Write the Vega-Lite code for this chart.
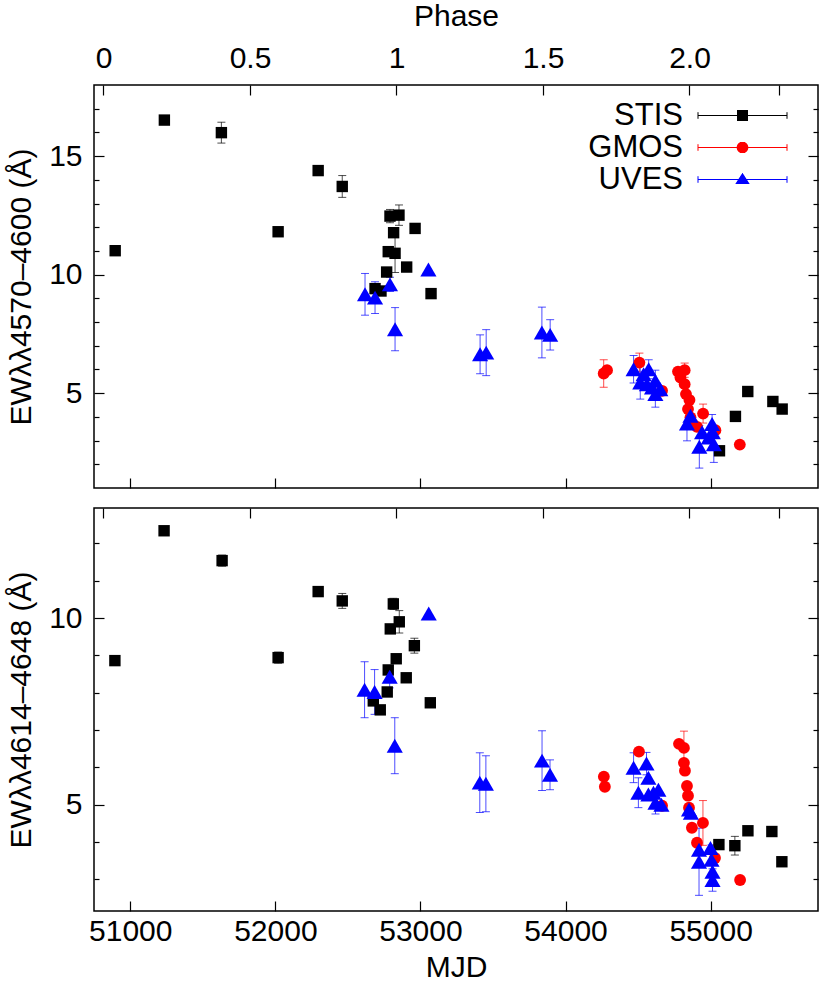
{
  "$schema": "https://vega.github.io/schema/vega-lite/v6.json",
  "padding": {"left": 5, "top": 0, "right": 5, "bottom": 5},
  "background": "white",
  "datasets": {
    "a": [
      {"inst": "STIS", "mjd": 50896, "ew": 11.01, "err": 0},
      {"inst": "STIS", "mjd": 51235, "ew": 16.52, "err": 0},
      {"inst": "STIS", "mjd": 51628, "ew": 15.99, "err": 0.44},
      {"inst": "STIS", "mjd": 52019, "ew": 11.81, "err": 0},
      {"inst": "STIS", "mjd": 52295, "ew": 14.39, "err": 0},
      {"inst": "STIS", "mjd": 52461, "ew": 13.72, "err": 0.46},
      {"inst": "STIS", "mjd": 52790, "ew": 12.47, "err": 0.28},
      {"inst": "STIS", "mjd": 52852, "ew": 12.51, "err": 0.43},
      {"inst": "STIS", "mjd": 52815, "ew": 11.77, "err": 0},
      {"inst": "STIS", "mjd": 52825, "ew": 10.90, "err": 0.81},
      {"inst": "STIS", "mjd": 52778, "ew": 10.97, "err": 0},
      {"inst": "STIS", "mjd": 52963, "ew": 11.95, "err": 0},
      {"inst": "STIS", "mjd": 52905, "ew": 10.32, "err": 0},
      {"inst": "STIS", "mjd": 52767, "ew": 10.11, "err": 0},
      {"inst": "STIS", "mjd": 52687, "ew": 9.41, "err": 0},
      {"inst": "STIS", "mjd": 52728, "ew": 9.31, "err": 0},
      {"inst": "STIS", "mjd": 53073, "ew": 9.20, "err": 0.15},
      {"inst": "STIS", "mjd": 55061, "ew": 2.57, "err": 0},
      {"inst": "STIS", "mjd": 55171, "ew": 4.02, "err": 0},
      {"inst": "STIS", "mjd": 55256, "ew": 5.07, "err": 0},
      {"inst": "STIS", "mjd": 55429, "ew": 4.65, "err": 0},
      {"inst": "STIS", "mjd": 55493, "ew": 4.33, "err": 0},
      {"inst": "GMOS", "mjd": 54263, "ew": 5.83, "err": 0.58},
      {"inst": "GMOS", "mjd": 54286, "ew": 5.97, "err": 0},
      {"inst": "GMOS", "mjd": 54509, "ew": 6.29, "err": 0.4},
      {"inst": "GMOS", "mjd": 54665, "ew": 5.10, "err": 0},
      {"inst": "GMOS", "mjd": 54775, "ew": 5.91, "err": 0},
      {"inst": "GMOS", "mjd": 54821, "ew": 5.97, "err": 0.3},
      {"inst": "GMOS", "mjd": 54792, "ew": 5.66, "err": 0},
      {"inst": "GMOS", "mjd": 54821, "ew": 5.38, "err": 0},
      {"inst": "GMOS", "mjd": 54830, "ew": 4.96, "err": 0},
      {"inst": "GMOS", "mjd": 54854, "ew": 4.71, "err": 0},
      {"inst": "GMOS", "mjd": 54844, "ew": 4.33, "err": 0},
      {"inst": "GMOS", "mjd": 54861, "ew": 3.98, "err": 0},
      {"inst": "GMOS", "mjd": 54877, "ew": 3.70, "err": 0},
      {"inst": "GMOS", "mjd": 54906, "ew": 3.58, "err": 0},
      {"inst": "GMOS", "mjd": 54948, "ew": 4.14, "err": 0.4},
      {"inst": "GMOS", "mjd": 55033, "ew": 3.44, "err": 0},
      {"inst": "GMOS", "mjd": 55201, "ew": 2.83, "err": 0},
      {"inst": "UVES", "mjd": 52618, "ew": 9.17, "err": 0.88},
      {"inst": "UVES", "mjd": 52687, "ew": 9.03, "err": 0.67},
      {"inst": "UVES", "mjd": 52790, "ew": 9.59, "err": 0.3},
      {"inst": "UVES", "mjd": 53055, "ew": 10.22, "err": 0},
      {"inst": "UVES", "mjd": 52825, "ew": 7.70, "err": 0.91},
      {"inst": "UVES", "mjd": 53411, "ew": 6.64, "err": 0.82},
      {"inst": "UVES", "mjd": 53453, "ew": 6.71, "err": 0.97},
      {"inst": "UVES", "mjd": 53837, "ew": 7.56, "err": 1.07},
      {"inst": "UVES", "mjd": 53894, "ew": 7.46, "err": 0.64},
      {"inst": "UVES", "mjd": 54469, "ew": 6.01, "err": 0.58},
      {"inst": "UVES", "mjd": 54573, "ew": 6.01, "err": 0.4},
      {"inst": "UVES", "mjd": 54538, "ew": 5.80, "err": 0},
      {"inst": "UVES", "mjd": 54515, "ew": 5.45, "err": 0.7},
      {"inst": "UVES", "mjd": 54561, "ew": 5.38, "err": 0},
      {"inst": "UVES", "mjd": 54619, "ew": 5.52, "err": 0.45},
      {"inst": "UVES", "mjd": 54596, "ew": 5.24, "err": 0},
      {"inst": "UVES", "mjd": 54619, "ew": 4.96, "err": 0.55},
      {"inst": "UVES", "mjd": 54653, "ew": 5.17, "err": 0},
      {"inst": "UVES", "mjd": 54861, "ew": 4.05, "err": 0},
      {"inst": "UVES", "mjd": 54837, "ew": 3.72, "err": 0.73},
      {"inst": "UVES", "mjd": 54941, "ew": 3.35, "err": 0},
      {"inst": "UVES", "mjd": 55010, "ew": 3.70, "err": 0.4},
      {"inst": "UVES", "mjd": 55015, "ew": 3.35, "err": 0},
      {"inst": "UVES", "mjd": 54987, "ew": 3.13, "err": 0},
      {"inst": "UVES", "mjd": 55022, "ew": 2.85, "err": 0.77},
      {"inst": "UVES", "mjd": 54922, "ew": 2.74, "err": 0.9}
    ],
    "b": [
      {"inst": "STIS", "mjd": 50894, "ew": 8.86, "err": 0},
      {"inst": "STIS", "mjd": 51233, "ew": 12.34, "err": 0},
      {"inst": "STIS", "mjd": 51633, "ew": 11.54, "err": 0.15},
      {"inst": "STIS", "mjd": 52019, "ew": 8.94, "err": 0.15},
      {"inst": "STIS", "mjd": 52295, "ew": 10.71, "err": 0},
      {"inst": "STIS", "mjd": 52461, "ew": 10.46, "err": 0.2},
      {"inst": "STIS", "mjd": 52813, "ew": 10.38, "err": 0.15},
      {"inst": "STIS", "mjd": 52854, "ew": 9.90, "err": 0.3},
      {"inst": "STIS", "mjd": 52792, "ew": 9.71, "err": 0},
      {"inst": "STIS", "mjd": 52833, "ew": 8.91, "err": 0},
      {"inst": "STIS", "mjd": 52778, "ew": 8.61, "err": 0},
      {"inst": "STIS", "mjd": 52771, "ew": 8.02, "err": 0},
      {"inst": "STIS", "mjd": 52675, "ew": 7.78, "err": 0},
      {"inst": "STIS", "mjd": 52723, "ew": 7.54, "err": 0},
      {"inst": "STIS", "mjd": 52902, "ew": 8.40, "err": 0},
      {"inst": "STIS", "mjd": 52958, "ew": 9.26, "err": 0.2},
      {"inst": "STIS", "mjd": 53068, "ew": 7.73, "err": 0},
      {"inst": "STIS", "mjd": 55057, "ew": 3.93, "err": 0},
      {"inst": "STIS", "mjd": 55167, "ew": 3.90, "err": 0.25},
      {"inst": "STIS", "mjd": 55257, "ew": 4.30, "err": 0},
      {"inst": "STIS", "mjd": 55422, "ew": 4.28, "err": 0},
      {"inst": "STIS", "mjd": 55491, "ew": 3.47, "err": 0},
      {"inst": "GMOS", "mjd": 54264, "ew": 5.75, "err": 0},
      {"inst": "GMOS", "mjd": 54271, "ew": 5.48, "err": 0},
      {"inst": "GMOS", "mjd": 54506, "ew": 6.42, "err": 0},
      {"inst": "GMOS", "mjd": 54782, "ew": 6.63, "err": 0},
      {"inst": "GMOS", "mjd": 54816, "ew": 6.52, "err": 0.45},
      {"inst": "GMOS", "mjd": 54816, "ew": 6.12, "err": 0},
      {"inst": "GMOS", "mjd": 54823, "ew": 5.91, "err": 0},
      {"inst": "GMOS", "mjd": 54837, "ew": 5.50, "err": 0},
      {"inst": "GMOS", "mjd": 54844, "ew": 5.24, "err": 0},
      {"inst": "GMOS", "mjd": 54851, "ew": 4.92, "err": 0},
      {"inst": "GMOS", "mjd": 54871, "ew": 4.38, "err": 0},
      {"inst": "GMOS", "mjd": 54906, "ew": 3.98, "err": 0},
      {"inst": "GMOS", "mjd": 54947, "ew": 4.51, "err": 0.6},
      {"inst": "GMOS", "mjd": 55030, "ew": 3.57, "err": 0},
      {"inst": "GMOS", "mjd": 55203, "ew": 2.98, "err": 0},
      {"inst": "GMOS", "mjd": 54665, "ew": 4.97, "err": 0},
      {"inst": "UVES", "mjd": 52615, "ew": 8.08, "err": 0.75},
      {"inst": "UVES", "mjd": 52684, "ew": 8.02, "err": 0.6},
      {"inst": "UVES", "mjd": 52788, "ew": 8.43, "err": 0.3},
      {"inst": "UVES", "mjd": 53057, "ew": 10.12, "err": 0},
      {"inst": "UVES", "mjd": 52823, "ew": 6.58, "err": 0.75},
      {"inst": "UVES", "mjd": 53409, "ew": 5.59, "err": 0.8},
      {"inst": "UVES", "mjd": 53451, "ew": 5.56, "err": 0.75},
      {"inst": "UVES", "mjd": 53838, "ew": 6.18, "err": 0.8},
      {"inst": "UVES", "mjd": 53893, "ew": 5.80, "err": 0.4},
      {"inst": "UVES", "mjd": 54469, "ew": 5.99, "err": 0.4},
      {"inst": "UVES", "mjd": 54558, "ew": 6.10, "err": 0.3},
      {"inst": "UVES", "mjd": 54571, "ew": 5.72, "err": 0},
      {"inst": "UVES", "mjd": 54502, "ew": 5.32, "err": 0.4},
      {"inst": "UVES", "mjd": 54571, "ew": 5.27, "err": 0},
      {"inst": "UVES", "mjd": 54606, "ew": 5.32, "err": 0},
      {"inst": "UVES", "mjd": 54620, "ew": 5.05, "err": 0.3},
      {"inst": "UVES", "mjd": 54640, "ew": 5.40, "err": 0},
      {"inst": "UVES", "mjd": 54661, "ew": 5.00, "err": 0},
      {"inst": "UVES", "mjd": 54851, "ew": 4.87, "err": 0},
      {"inst": "UVES", "mjd": 54864, "ew": 4.78, "err": 0},
      {"inst": "UVES", "mjd": 54920, "ew": 3.79, "err": 0},
      {"inst": "UVES", "mjd": 54999, "ew": 3.84, "err": 0},
      {"inst": "UVES", "mjd": 55006, "ew": 3.52, "err": 0.4},
      {"inst": "UVES", "mjd": 55013, "ew": 3.20, "err": 0},
      {"inst": "UVES", "mjd": 55013, "ew": 2.98, "err": 0.3},
      {"inst": "UVES", "mjd": 54920, "ew": 3.47, "err": 0.9}
    ]
  },
  "vconcat": [
    {
      "data": {"name": "a"},
      "width": 724,
      "height": 403,
      "layer": [
        {
          "layer": [
            {
              "transform": [{"filter": "datum.err > 0"}],
              "mark": {"type": "errorbar", "ticks": {"size": 8, "thickness": 1, "opacity": 0.7}, "rule": {"strokeWidth": 1, "opacity": 0.7}},
              "encoding": {
                "x": {"field": "mjd", "type": "quantitative", "title": null, "scale": {"domain": [50750, 55740], "nice": false, "zero": false}},
                "y": {"field": "ew", "type": "quantitative", "title": "EWλλ4570–4600 (Å)", "scale": {"domain": [1, 18], "nice": false, "zero": false}},
                "yError": {"field": "err"},
                "color": {"field": "inst", "type": "nominal", "scale": {"domain": ["STIS", "GMOS", "UVES"], "range": ["#000000", "#ff0000", "#0000ff"]}, "legend": null}
              }
            },
            {
              "mark": {"type": "point", "filled": true, "opacity": 1},
              "encoding": {
                "x": {"field": "mjd", "type": "quantitative", "title": null, "scale": {"domain": [50750, 55740], "nice": false, "zero": false},
                  "axis": {"orient": "bottom", "values": [51000, 52000, 53000, 54000, 55000], "tickSize": -10, "labels": false, "title": null}},
                "y": {"field": "ew", "type": "quantitative", "title": "EWλλ4570–4600 (Å)", "scale": {"domain": [1, 18], "nice": false, "zero": false},
                  "axis": {"orient": "left", "values": [5, 10, 15], "tickSize": -10, "format": "d", "labelPadding": 22, "titlePadding": 12}},
                "color": {"field": "inst", "type": "nominal", "scale": {"domain": ["STIS", "GMOS", "UVES"], "range": ["#000000", "#ff0000", "#0000ff"]}, "legend": null},
                "shape": {"field": "inst", "type": "nominal", "scale": {"domain": ["STIS", "GMOS", "UVES"], "range": ["square", "circle", "triangle-up"]}, "legend": null},
                "size": {"field": "inst", "type": "nominal", "scale": {"type": "ordinal", "domain": ["STIS", "GMOS", "UVES"], "range": [130, 140, 260]}, "legend": null}
              }
            }
          ]
        },
        {
          "data": {"values": [{"inst": "STIS"}, {"inst": "GMOS"}, {"inst": "UVES"}]},
          "transform": [{"filter": "datum.inst == 'none'"}],
          "mark": {"type": "point", "filled": false, "size": 400, "strokeWidth": 1, "opacity": 1},
          "encoding": {
            "color": {"field": "inst", "type": "nominal", "scale": {"domain": ["STIS", "GMOS", "UVES"], "range": ["#000000", "#ff0000", "#0000ff"]},
              "legend": {"orient": "none", "legendX": 633, "legendY": 15, "title": null, "padding": 0, "labelFont": "Liberation Sans", "labelFontSize": 31, "labelAlign": "right", "labelOffset": -75, "labelColor": "black", "symbolSize": 400, "symbolStrokeWidth": 1, "symbolOpacity": 1, "rowPadding": 0}},
            "shape": {"field": "inst", "type": "nominal", "scale": {"domain": ["STIS", "GMOS", "UVES"], "range": [
                "M-4.45,0H4.45M-4.45,-0.33V0.33M4.45,-0.33V0.33M-0.55,-0.5H0.55M-0.55,-0.4H0.55M-0.55,-0.3H0.55M-0.55,-0.2H0.55M-0.55,-0.1H0.55M-0.55,0.1H0.55M-0.55,0.2H0.55M-0.55,0.3H0.55M-0.55,0.4H0.55M-0.55,0.5H0.55",
                "M-4.45,0H4.45M-4.45,-0.33V0.33M4.45,-0.33V0.33M-0.294,-0.5H0.294M-0.42,-0.4H0.42M-0.496,-0.3H0.496M-0.544,-0.2H0.544M-0.571,-0.1H0.571M-0.58,0H0.58M-0.571,0.1H0.571M-0.544,0.2H0.544M-0.496,0.3H0.496M-0.42,0.4H0.42M-0.294,0.5H0.294",
                "M-4.45,0H4.45M-4.45,-0.33V0.33M4.45,-0.33V0.33M-0.045,-0.6H0.045M-0.11,-0.5H0.11M-0.174,-0.4H0.174M-0.239,-0.3H0.239M-0.303,-0.2H0.303M-0.368,-0.1H0.368M-0.432,0H0.432M-0.497,0.1H0.497M-0.561,0.2H0.561M-0.626,0.3H0.626M-0.69,0.4H0.69"]},
              "legend": {"orient": "none", "legendX": 633, "legendY": 15, "title": null, "padding": 0, "labelFont": "Liberation Sans", "labelFontSize": 31, "labelAlign": "right", "labelOffset": -75, "labelColor": "black", "symbolSize": 400, "symbolStrokeWidth": 1, "symbolOpacity": 1, "rowPadding": 0}}
          }
        },
        {
          "mark": {"type": "point", "opacity": 0},
          "encoding": {"y": {"field": "ew", "type": "quantitative", "scale": {"domain": [1, 18], "nice": false, "zero": false},
            "axis": {"orient": "left", "values": [2, 3, 4, 6, 7, 8, 9, 11, 12, 13, 14, 16, 17], "tickSize": -5, "labels": false, "title": null}}}
        },
        {
          "mark": {"type": "point", "opacity": 0},
          "encoding": {"y": {"field": "ew", "type": "quantitative", "scale": {"domain": [1, 18], "nice": false, "zero": false},
            "axis": {"orient": "right", "values": [5, 10, 15], "tickSize": -10, "labels": false, "title": null}}}
        },
        {
          "mark": {"type": "point", "opacity": 0},
          "encoding": {"y": {"field": "ew", "type": "quantitative", "scale": {"domain": [1, 18], "nice": false, "zero": false},
            "axis": {"orient": "right", "values": [2, 3, 4, 6, 7, 8, 9, 11, 12, 13, 14, 16, 17], "tickSize": -5, "labels": false, "title": null}}}
        },
        {
          "data": {"values": [{"phase": 0}, {"phase": 2}]},
          "mark": {"type": "point", "opacity": 0},
          "encoding": {"x": {"field": "phase", "type": "quantitative", "scale": {"domain": [-0.0324, 2.4386], "nice": false, "zero": false},
            "axis": {"orient": "top", "values": [0, 0.5, 1, 1.5, 2, 2.307], "tickSize": -10, "labelPadding": 22,
              "labelExpr": "datum.value == 2 ? '2.0' : datum.value > 2.1 ? '' : '' + datum.value", "title": "Phase", "titlePadding": 12}}}
        }
      ],
      "resolve": {"scale": {"x": "independent", "shape": "independent", "color": "independent"}, "axis": {"x": "independent", "y": "independent"}}
    },
    {
      "data": {"name": "b"},
      "width": 724,
      "height": 403,
      "layer": [
        {
          "layer": [
            {
              "transform": [{"filter": "datum.err > 0"}],
              "mark": {"type": "errorbar", "ticks": {"size": 8, "thickness": 1, "opacity": 0.7}, "rule": {"strokeWidth": 1, "opacity": 0.7}},
              "encoding": {
                "x": {"field": "mjd", "type": "quantitative", "title": "MJD", "scale": {"domain": [50750, 55740], "nice": false, "zero": false}},
                "y": {"field": "ew", "type": "quantitative", "title": "EWλλ4614–4648 (Å)", "scale": {"domain": [2.15, 12.95], "nice": false, "zero": false}},
                "yError": {"field": "err"},
                "color": {"field": "inst", "type": "nominal", "scale": {"domain": ["STIS", "GMOS", "UVES"], "range": ["#000000", "#ff0000", "#0000ff"]}, "legend": null}
              }
            },
            {
              "mark": {"type": "point", "filled": true, "opacity": 1},
              "encoding": {
                "x": {"field": "mjd", "type": "quantitative", "title": "MJD", "scale": {"domain": [50750, 55740], "nice": false, "zero": false},
                  "axis": {"orient": "bottom", "values": [51000, 52000, 53000, 54000, 55000], "tickSize": -10, "format": "d", "labelPadding": 15, "titlePadding": 6}},
                "y": {"field": "ew", "type": "quantitative", "title": "EWλλ4614–4648 (Å)", "scale": {"domain": [2.15, 12.95], "nice": false, "zero": false},
                  "axis": {"orient": "left", "values": [5, 10], "tickSize": -10, "format": "d", "labelPadding": 22, "titlePadding": 12}},
                "color": {"field": "inst", "type": "nominal", "scale": {"domain": ["STIS", "GMOS", "UVES"], "range": ["#000000", "#ff0000", "#0000ff"]}, "legend": null},
                "shape": {"field": "inst", "type": "nominal", "scale": {"domain": ["STIS", "GMOS", "UVES"], "range": ["square", "circle", "triangle-up"]}, "legend": null},
                "size": {"field": "inst", "type": "nominal", "scale": {"type": "ordinal", "domain": ["STIS", "GMOS", "UVES"], "range": [130, 140, 260]}, "legend": null}
              }
            }
          ]
        },
        {
          "mark": {"type": "point", "opacity": 0},
          "encoding": {"y": {"field": "ew", "type": "quantitative", "scale": {"domain": [2.15, 12.95], "nice": false, "zero": false},
            "axis": {"orient": "left", "values": [3, 4, 6, 7, 8, 9, 11, 12], "tickSize": -5, "labels": false, "title": null}}}
        },
        {
          "mark": {"type": "point", "opacity": 0},
          "encoding": {"y": {"field": "ew", "type": "quantitative", "scale": {"domain": [2.15, 12.95], "nice": false, "zero": false},
            "axis": {"orient": "right", "values": [5, 10], "tickSize": -10, "labels": false, "title": null}}}
        },
        {
          "mark": {"type": "point", "opacity": 0},
          "encoding": {"y": {"field": "ew", "type": "quantitative", "scale": {"domain": [2.15, 12.95], "nice": false, "zero": false},
            "axis": {"orient": "right", "values": [3, 4, 6, 7, 8, 9, 11, 12], "tickSize": -5, "labels": false, "title": null}}}
        },
        {
          "data": {"values": [{"phase": 0}, {"phase": 2}]},
          "mark": {"type": "point", "opacity": 0},
          "encoding": {"x": {"field": "phase", "type": "quantitative", "scale": {"domain": [-0.0324, 2.4386], "nice": false, "zero": false},
            "axis": {"orient": "top", "values": [0, 0.5, 1, 1.5, 2, 2.307], "tickSize": -10, "labels": false, "title": null}}}
        }
      ],
      "resolve": {"scale": {"x": "independent"}, "axis": {"x": "independent", "y": "independent"}}
    }
  ],
  "spacing": 16,
  "resolve": {"scale": {"x": "independent", "y": "independent", "shape": "independent", "color": "independent"}, "legend": {"color": "independent", "shape": "independent", "size": "independent"}},
  "config": {
    "font": "Liberation Sans",
    "view": {"stroke": "black", "strokeWidth": 1.5},
    "axis": {"labelFont": "Liberation Sans", "labelFontSize": 30, "titleFont": "Liberation Sans", "titleFontSize": 30, "titleFontWeight": "normal",
      "labelColor": "black", "titleColor": "black", "tickColor": "black", "tickWidth": 1.2, "domain": false, "grid": false}
  }
}
